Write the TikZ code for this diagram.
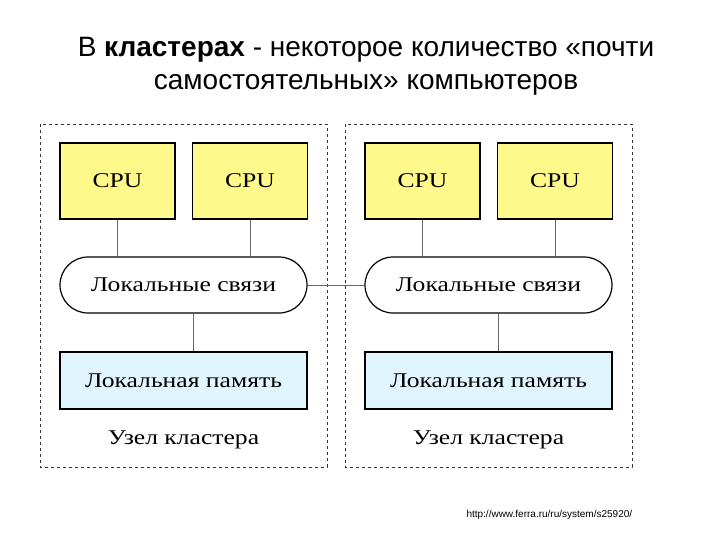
\documentclass[tikz,border=0pt]{standalone}
\usepackage{fontspec}
\setmainfont{Liberation Sans}
\newfontfamily\diag[FakeStretch=1.22]{Liberation Serif}
\newcommand{\lowtext}[1]{\raisebox{-13pt}{#1}}
\begin{document}
\begin{tikzpicture}[x=1pt,y=-1pt,
 clus/.style={draw=black!80,dashed,line width=0.6pt},
 cpu/.style={draw,line width=1.2pt,fill=yellow!45,minimum width=115pt,minimum height=76pt,font=\diag\fontsize{21}{22}\selectfont,inner sep=0pt},
 bus/.style={draw,line width=1.2pt,fill=white,rounded corners=28pt,minimum width=247pt,minimum height=56pt,font=\diag\fontsize{21}{22}\selectfont,inner sep=0pt},
 mem/.style={draw,line width=1.2pt,fill=cyan!12,minimum width=247pt,minimum height=57pt,font=\diag\fontsize{21}{22}\selectfont,inner sep=0pt},
 lbl/.style={font=\diag\fontsize{21}{22}\selectfont},
 wire/.style={draw=black!60,line width=1pt}]
\useasboundingbox (0,0) rectangle (720,540);
\node[font=\fontsize{28}{33}\selectfont,align=center] (title) at (366,66) {В \textbf{кластерах} - некоторое количество «почти\\самостоятельных» компьютеров};
\foreach \n/\x in {L/0,R/305}{
 \draw[clus] (40+\x,124) rectangle (327+\x,467);
 \node[cpu] (\n c1) at (117.5+\x,181) {\lowtext{CPU}};
 \node[cpu] (\n c2) at (250+\x,181) {\lowtext{CPU}};
 \node[bus] (\n b) at (183.5+\x,285) {Локальные связи};
 \node[mem] (\n m) at (183.5+\x,380.5) {Локальная память};
 \node[lbl] (\n t) at (183.5+\x,440) {Узел кластера};
 \coordinate (\n j) at (193+\x,0);
 \draw[wire] (\n c1.south) -- (\n c1.south |- \n b.north);
 \draw[wire] (\n c2.south) -- (\n c2.south |- \n b.north);
 \draw[wire] (\n j |- \n b.south) -- (\n j |- \n m.north);
}
\draw[wire] (Lb.east) -- (Rb.west);
\node[font=\fontsize{10}{12}\selectfont,anchor=west] (url) at (463,515) {http://www.ferra.ru/ru/system/s25920/};
\end{tikzpicture}
\end{document}
